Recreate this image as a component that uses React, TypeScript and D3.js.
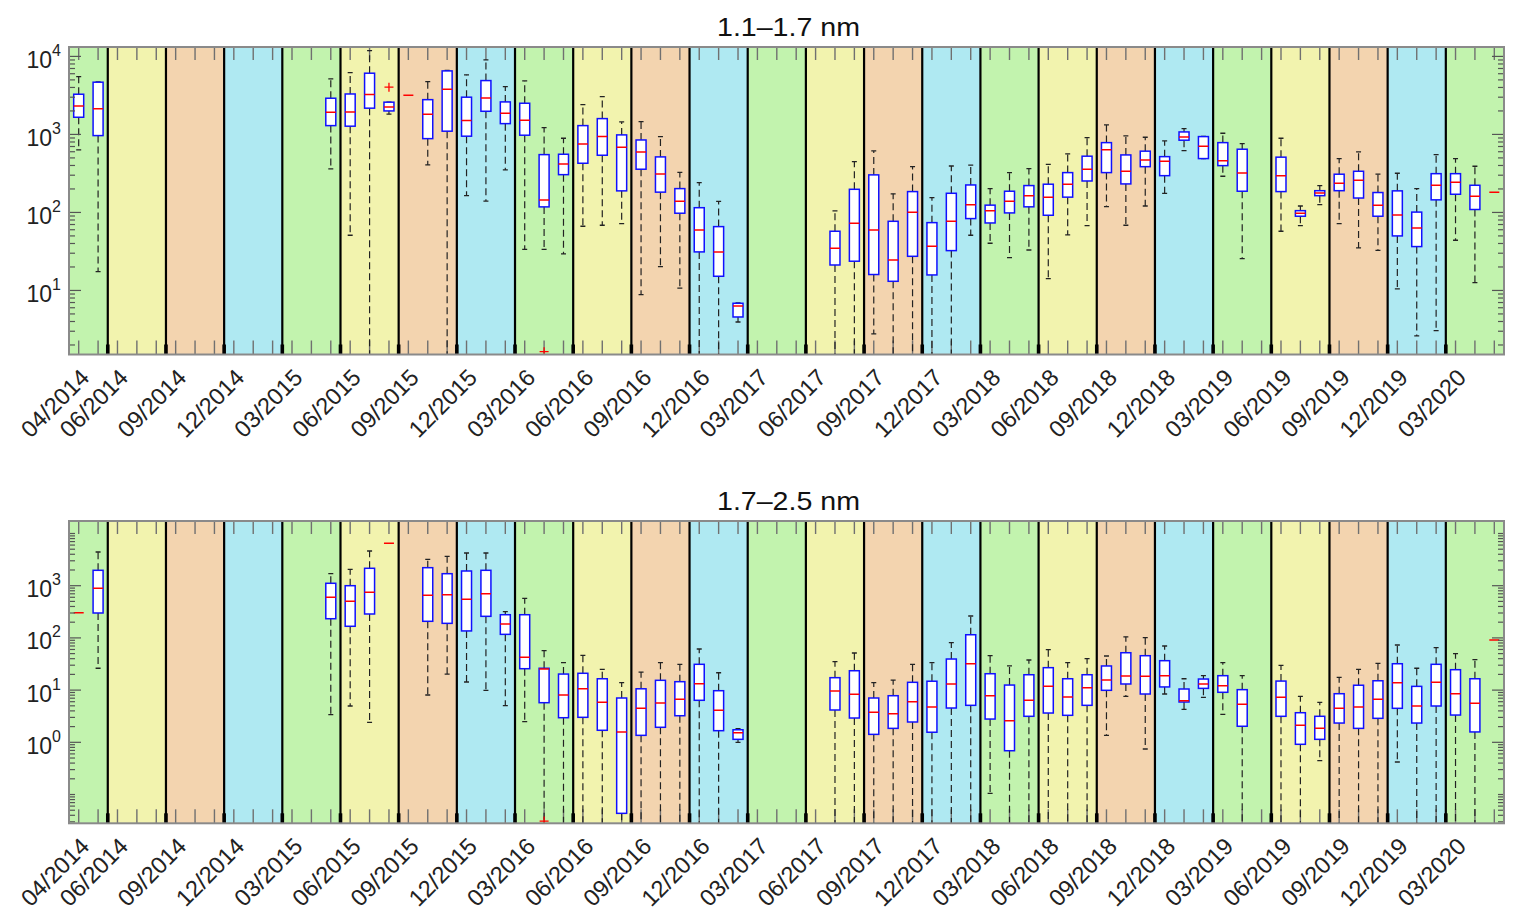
import * as d3 from "d3";

// ---- x axis ----
const firstMonth = "04/2014";
const lastMonth = "05/2020";
const tickLabels = [
  "04/2014", "06/2014", "09/2014", "12/2014", "03/2015", "06/2015", "09/2015",
  "12/2015", "03/2016", "06/2016", "09/2016", "12/2016", "03/2017", "06/2017",
  "09/2017", "12/2017", "03/2018", "06/2018", "09/2018", "12/2018", "03/2019",
  "06/2019", "09/2019", "12/2019", "03/2020",
];
const seasonColors = ["#c2f3ae", "#f2f3ae", "#f3d4af", "#afe9f2"]; // spring, summer, autumn, winter

// ---- panel 1: 1.1-1.7 nm ----
const smallMonths = [
  "04/2014", "05/2014", "05/2015", "06/2015", "07/2015", "08/2015", "09/2015", "10/2015",
  "11/2015", "12/2015", "01/2016", "02/2016", "03/2016", "04/2016", "05/2016", "06/2016",
  "07/2016", "08/2016", "09/2016", "10/2016", "11/2016", "12/2016", "01/2017", "02/2017",
  "07/2017", "08/2017", "09/2017", "10/2017", "11/2017", "12/2017", "01/2018", "02/2018",
  "03/2018", "04/2018", "05/2018", "06/2018", "07/2018", "08/2018", "09/2018", "10/2018",
  "11/2018", "12/2018", "01/2019", "02/2019", "03/2019", "04/2019", "06/2019", "07/2019",
  "08/2019", "09/2019", "10/2019", "11/2019", "12/2019", "01/2020", "02/2020", "03/2020",
  "04/2020", "05/2020",
];
const smallLow = [
  632, 17.4, 361, 51, 1, 1815, null, 406, 1, 164, 140, 351, 33.7, 33.7, 29.4, 66.5,
  68.5, 71.8, 8.83, 20.2, 10.7, 1, 1, 3.94, 1, 1, 2.77, 1, 1, 1, 1, 51,
  40.3, 26.3, 33, 14.2, 51.5, 67.8, 119, 68.5, 121, 176, 620, 490, 291, 25.6, 57.4, 67.8,
  126, 71.8, 35.1, 32.7, 10.5, 2.61, 3.05, 44, 12.6, null,
];
const smallQ1 = [
  1660, 966, 1297, 1275, 2170, 2000, null, 883, 1100, 949, 1980, 1375, 977, 117.8, 305, 427,
  541, 189, 358, 182, 97.7, 31.2, 15.2, 4.57, 21.2, 23.7, 16, 13.1, 27.4, 15.8, 32.4, 83.4,
  73.3, 98.6, 118, 92, 157, 253, 324, 232, 386, 296, 843, 490, 398, 187, 185, 89.4,
  164, 190, 153, 89.4, 50, 36.5, 145, 171, 109, null,
];
const smallMedian = [
  2320, 2140, 1930, 1940, 3240, 2250, 3185, 1815, 3800, 1505, 2940, 1870, 1520, 144.6, 419, 755,
  938, 686, 597, 312, 139, 59.7, 31.2, 6.32, 34.8, 72.7, 59.7, 24.6, 100.7, 36.9, 77, 125,
  105.4, 139, 164, 157, 230, 358, 638, 337, 471, 453, 929, 706, 461, 321, 296, 97.7,
  178, 237, 259, 124, 93, 63.2, 223, 244, 161, 182,
];
const smallQ3 = [
  3275, 4670, 2910, 3300, 6090, 2590, null, 2790, 6520, 3000, 4900, 2610, 2510, 551, 557, 1297,
  1595, 986, 849, 515, 202, 115, 65.8, 6.85, 57.4, 198, 303, 77, 185, 74, 176, 225,
  124, 187, 221, 230, 324, 526, 785, 546, 610, 519, 1076, 938, 785, 646, 511, 105.4,
  190, 309, 337, 180, 189, 101, 314, 314, 223, null,
];
const smallHigh = [
  5510, 4700, 5150, 6190, 11860, 2600, null, 4750, 6600, 5800, 9020, 4100, 4850, 1220, 893, 2410,
  3055, 1445, 1459, 938, 327, 241, 139, 6.9, 104.5, 448, 614, 173, 386, 155, 394, 403,
  202, 324, 365, 412, 562, 910, 1325, 957, 920, 826, 1186, 940, 1035, 762, 893, 121,
  221, 490, 597, 309, 318, 202, 551, 490, 391, null,
];
const smallOutlierMonths = ["08/2015", "04/2016"];
const smallOutlierValues = [4030, 1.64];

// ---- panel 2: 1.7-2.5 nm ----
const bigMonths = [
  "04/2014", "05/2014", "05/2015", "06/2015", "07/2015", "08/2015", "10/2015", "11/2015",
  "12/2015", "01/2016", "02/2016", "03/2016", "04/2016", "05/2016", "06/2016", "07/2016",
  "08/2016", "09/2016", "10/2016", "11/2016", "12/2016", "01/2017", "02/2017", "07/2017",
  "08/2017", "09/2017", "10/2017", "11/2017", "12/2017", "01/2018", "02/2018", "03/2018",
  "04/2018", "05/2018", "06/2018", "07/2018", "08/2018", "09/2018", "10/2018", "11/2018",
  "12/2018", "01/2019", "02/2019", "03/2019", "04/2019", "06/2019", "07/2019", "08/2019",
  "09/2019", "10/2019", "11/2019", "12/2019", "01/2020", "02/2020", "03/2020", "04/2020",
  "05/2020",
];
const bigLow = [
  null, 26.2, 3.38, 4.96, 2.42, null, 8.06, 20.3, 14.3, 9.91, 5.03, 2.48, 0.01, 0.01, 0.01, 0.01,
  0.01, 0.01, 0.01, 0.01, 0.01, 0.01, 1.0, 0.01, 0.01, 0.01, 0.01, 0.01, 0.01, 0.01, 0.01, 0.105,
  0.01, 0.01, 0.01, 0.01, 0.01, 1.36, 7.6, 0.744, 8.42, 4.29, 7.28, 3.44, 0.01, 0.01, 0.01, 0.444,
  0.01, 0.01, 0.01, 0.42, 0.01, 0.01, 0.01, 0.01, null,
];
const bigQ1 = [
  null, 300, 233, 167, 287, null, 208, 190, 136, 259, 117, 25.7, 5.74, 2.96, 3.01, 1.7,
  0.0436, 1.36, 1.94, 3.23, 6.38, 1.67, 1.14, 4.16, 2.92, 1.42, 1.85, 2.45, 1.56, 4.54, 5.11, 2.79,
  0.69, 3.15, 3.64, 3.29, 5.11, 9.91, 13.1, 8.42, 11.5, 5.92, 10.8, 9.08, 2.03, 3.15, 0.916, 1.14,
  2.34, 1.85, 2.88, 4.48, 2.34, 4.96, 3.33, 1.58, null,
];
const bigMedian = [
  304, 891, 600, 502, 748, 6490, 655, 673, 549, 703, 185, 42.5, 25.4, 8.06, 10.6, 5.84,
  1.58, 4.48, 5.66, 6.67, 13.3, 4.1, 1.53, 9.6, 8.31, 3.76, 3.53, 6.0, 4.75, 13.1, 32, 7.81,
  2.59, 6.38, 11.8, 7.38, 11.1, 15.6, 18.6, 18.4, 18.9, 6.27, 13.1, 12.1, 5.35, 7.28, 2.12, 1.85,
  4.48, 4.75, 6.67, 13.9, 4.96, 14.1, 8.53, 5.58, 91,
];
const bigQ3 = [
  null, 1972, 1112, 1000, 2155, null, 2213, 1698, 1913, 1972, 278, 278, 26.2, 20.3, 21, 16.5,
  7.06, 10.6, 15.4, 14.5, 31.2, 9.74, 1.74, 17.3, 23.5, 7.06, 7.81, 14.1, 14.8, 39.4, 115, 20.6,
  12.5, 19.7, 26.9, 16.5, 19.7, 29, 52, 45.6, 36.6, 10.5, 16.3, 18.9, 10.2, 14.9, 3.69, 3.15,
  8.53, 12.4, 15.1, 32, 11.8, 31.2, 24.6, 16.5, null,
];
const bigHigh = [
  null, 4420, 1698, 2060, 4620, null, 3205, 3655, 4230, 4230, 318, 574, 56.9, 33.5, 46.4, 25,
  13.9, 22.2, 33.5, 31.2, 61.3, 21.5, 1.82, 35, 51.4, 13.9, 15.6, 31.2, 33.5, 80.9, 263, 45.6,
  29, 37.7, 59.4, 33.5, 40, 45, 105, 101, 70, 16.5, 18.9, 33.5, 18.9, 29.9, 7.6, 5.84,
  17.6, 25, 32.6, 73.1, 26.2, 64.9, 49.8, 38.2, null,
];
const bigOutlierMonths = ["04/2016"];
const bigOutlierValues = [0.031];

// ---- layout ----
const W = 1526;
const H = 921;
const plotLeft = 69;
const plotRight = 1504;
const font = "'Liberation Sans', Arial, Helvetica, sans-serif";

const monthIndex = (m: string) => {
  const [mm, yy] = m.split("/").map(Number);
  const [m0, y0] = firstMonth.split("/").map(Number);
  return (yy - y0) * 12 + (mm - m0);
};
const nMonths = monthIndex(lastMonth) + 1;
const x = d3.scaleLinear().domain([0, nMonths]).range([plotLeft, plotRight]);
const cx = (m: string) => x(monthIndex(m) + 0.5);
const seasonOf = (i: number) => {
  const moy = (i + monthIndex("01/2015") * -1 + 120) % 12; // 0 = January
  return Math.floor(((moy + 10) % 12) / 3);
};

const panels = [
  {
    title: "1.1\u20131.7 nm",
    top: 47,
    bottom: 354.5,
    domain: [1.51, 13200],
    labelExps: [1, 2, 3, 4],
    months: smallMonths,
    low: smallLow,
    q1: smallQ1,
    median: smallMedian,
    q3: smallQ3,
    high: smallHigh,
    outMonths: smallOutlierMonths,
    outValues: smallOutlierValues,
  },
  {
    title: "1.7\u20132.5 nm",
    top: 521,
    bottom: 823.3,
    domain: [0.0281, 17350],
    labelExps: [0, 1, 2, 3],
    months: bigMonths,
    low: bigLow,
    q1: bigQ1,
    median: bigMedian,
    q3: bigQ3,
    high: bigHigh,
    outMonths: bigOutlierMonths,
    outValues: bigOutlierValues,
  },
];

type PanelDef = (typeof panels)[number];

function Panel({ p, id }: { p: PanelDef; id: number }) {
  const y = d3.scaleLog().domain(p.domain).range([p.bottom, p.top]);
  const clip = `clip${id}`;
  const half = 5;
  const cap = 2.5;

  // season blocks
  const blocks: { start: number; end: number; s: number }[] = [];
  for (let i = 0; i < nMonths; i++) {
    const s = seasonOf(i);
    const last = blocks[blocks.length - 1];
    if (last && last.s === s) last.end = i + 1;
    else blocks.push({ start: i, end: i + 1, s });
  }

  // log ticks
  const ticks: { v: number; major: boolean }[] = [];
  const [d0, d1] = p.domain;
  for (let e = Math.floor(Math.log10(d0)); e <= Math.ceil(Math.log10(d1)); e++) {
    for (let k = 1; k <= 9; k++) {
      const v = k * Math.pow(10, e);
      if (v >= d0 && v <= d1) ticks.push({ v, major: k === 1 && p.labelExps.includes(e) });
    }
  }

  const months = d3.range(nMonths);

  return (
    <g>
      <defs>
        <clipPath id={clip}>
          <rect x={plotLeft} y={p.top} width={plotRight - plotLeft} height={p.bottom - p.top} />
        </clipPath>
      </defs>
      {blocks.map((b, i) => (
        <rect key={i} x={x(b.start)} y={p.top} width={x(b.end) - x(b.start)} height={p.bottom - p.top}
          fill={seasonColors[b.s]} shapeRendering="crispEdges" />
      ))}
      {blocks.slice(1).map((b, i) => (
        <g key={i} fill="#000">
          <line x1={x(b.start)} x2={x(b.start)} y1={p.top} y2={p.bottom} stroke="#000" strokeWidth={2.2} />
          <rect x={x(b.start) - 1.8} y={p.bottom - 10} width={3.6} height={10} />
        </g>
      ))}
      {months.map((i) => (
        <g key={i} stroke="#707070" strokeWidth={1.4}>
          <line x1={x(i + 0.5)} x2={x(i + 0.5)} y1={p.top} y2={p.top + 13} />
          <line x1={x(i + 0.5)} x2={x(i + 0.5)} y1={p.bottom - 14} y2={p.bottom} />
        </g>
      ))}
      <g clipPath={`url(#${clip})`}>
        {p.months.map((m, i) => {
          const xc = cx(m);
          const med = p.median[i];
          const q1 = p.q1[i];
          const q3 = p.q3[i];
          const lo = p.low[i];
          const hi = p.high[i];
          if (q1 == null || q3 == null || lo == null || hi == null) {
            return <line key={m} x1={xc - half} x2={xc + half} y1={y(med)} y2={y(med)} stroke="#ff0000" strokeWidth={1.5} />;
          }
          return (
            <g key={m}>
              <line x1={xc} x2={xc} y1={y(q3)} y2={y(hi)} stroke="#222" strokeWidth={1.2} strokeDasharray="7,4" />
              <line x1={xc} x2={xc} y1={y(q1)} y2={y(lo)} stroke="#222" strokeWidth={1.2} strokeDasharray="7,4" />
              <line x1={xc - cap} x2={xc + cap} y1={y(hi)} y2={y(hi)} stroke="#222" strokeWidth={1.3} />
              <line x1={xc - cap} x2={xc + cap} y1={y(lo)} y2={y(lo)} stroke="#222" strokeWidth={1.3} />
              <rect x={xc - half} y={y(q3)} width={2 * half} height={y(q1) - y(q3)} fill="#fff" stroke="#1010ff" strokeWidth={1.5} />
              <line x1={xc - half} x2={xc + half} y1={y(med)} y2={y(med)} stroke="#ff0000" strokeWidth={1.5} />
            </g>
          );
        })}
        {p.outMonths.map((m, i) => {
          const xc = cx(m);
          const yy = y(p.outValues[i]);
          return (
            <g key={m} stroke="#ff0000" strokeWidth={1.3}>
              <line x1={xc - 4.5} x2={xc + 4.5} y1={yy} y2={yy} />
              <line x1={xc} x2={xc} y1={yy - 4.5} y2={yy + 4.5} />
            </g>
          );
        })}
      </g>
      {ticks.map((t, i) => {
        const len = t.major ? 12 : 6;
        return (
          <g key={i} stroke="#555" strokeWidth={1.2}>
            <line x1={plotLeft} x2={plotLeft + len} y1={y(t.v)} y2={y(t.v)} />
            <line x1={plotRight - len} x2={plotRight} y1={y(t.v)} y2={y(t.v)} />
          </g>
        );
      })}
      <rect x={plotLeft} y={p.top} width={plotRight - plotLeft} height={p.bottom - p.top}
        fill="none" stroke="#8a8a8a" strokeWidth={2} />
      {p.labelExps.map((e) => (
        <text key={e} x={61} y={y(Math.pow(10, e)) + 11.5} textAnchor="end" fontSize={23} fill="#222">
          10<tspan dy={-12} fontSize={16}>{e}</tspan>
        </text>
      ))}
      {tickLabels.map((l) => (
        <text key={l} transform={`translate(${cx(l) + 12},${p.bottom + 24.5}) rotate(-45)`}
          textAnchor="end" fontSize={23.5} fill="#222">{l}</text>
      ))}
      <text x={(plotLeft + plotRight) / 2 + 2} y={p.top - 11.3} textAnchor="middle" fontSize={25}
        fill="#111" textLength={143} lengthAdjust="spacingAndGlyphs">{p.title}</text>
    </g>
  );
}

export default function App() {
  return (
    <svg width={W} height={H} fontFamily={font}
      style={{ position: "absolute", left: 0, top: 0, background: "#fff" }}>
      {panels.map((p, i) => (
        <Panel key={i} p={p} id={i} />
      ))}
    </svg>
  );
}
